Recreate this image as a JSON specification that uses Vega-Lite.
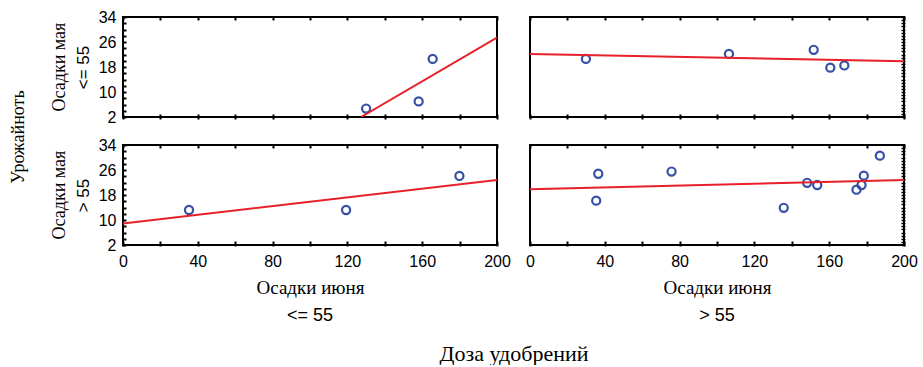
{
  "$schema": "https://vega.github.io/schema/vega-lite/v6.json",
  "padding": {"left": 10, "top": 9, "right": 5, "bottom": 0},
  "title": {"text": "Урожайноть", "orient": "left", "font": "Liberation Serif", "fontSize": 18, "fontWeight": "normal", "color": "#000", "anchor": "middle", "offset": 23, "dx": 50},
  "datasets": {
    "all": [
      {"dose": "<= 55", "may": "<= 55", "kind": "pt", "june": 130.0, "yield": 4.7},
      {"dose": "<= 55", "may": "<= 55", "kind": "pt", "june": 158.1, "yield": 7.0},
      {"dose": "<= 55", "may": "<= 55", "kind": "pt", "june": 165.6, "yield": 20.6},
      {"dose": "<= 55", "may": "<= 55", "kind": "fit", "june": 127.3, "yield": 2.0},
      {"dose": "<= 55", "may": "<= 55", "kind": "fit", "june": 200, "yield": 27.4},
      {"dose": "> 55", "may": "<= 55", "kind": "pt", "june": 29.9, "yield": 20.6},
      {"dose": "> 55", "may": "<= 55", "kind": "pt", "june": 106.4, "yield": 22.2},
      {"dose": "> 55", "may": "<= 55", "kind": "pt", "june": 151.7, "yield": 23.5},
      {"dose": "> 55", "may": "<= 55", "kind": "pt", "june": 160.6, "yield": 17.8},
      {"dose": "> 55", "may": "<= 55", "kind": "pt", "june": 168.1, "yield": 18.5},
      {"dose": "> 55", "may": "<= 55", "kind": "fit", "june": 0, "yield": 22.2},
      {"dose": "> 55", "may": "<= 55", "kind": "fit", "june": 200, "yield": 19.8},
      {"dose": "<= 55", "may": "> 55", "kind": "pt", "june": 35.3, "yield": 13.2},
      {"dose": "<= 55", "may": "> 55", "kind": "pt", "june": 119.3, "yield": 13.2},
      {"dose": "<= 55", "may": "> 55", "kind": "pt", "june": 179.9, "yield": 24.1},
      {"dose": "<= 55", "may": "> 55", "kind": "fit", "june": 0, "yield": 8.9},
      {"dose": "<= 55", "may": "> 55", "kind": "fit", "june": 200, "yield": 22.8},
      {"dose": "> 55", "may": "> 55", "kind": "pt", "june": 36.5, "yield": 24.8},
      {"dose": "> 55", "may": "> 55", "kind": "pt", "june": 35.4, "yield": 16.2},
      {"dose": "> 55", "may": "> 55", "kind": "pt", "june": 75.7, "yield": 25.5},
      {"dose": "> 55", "may": "> 55", "kind": "pt", "june": 135.7, "yield": 13.9},
      {"dose": "> 55", "may": "> 55", "kind": "pt", "june": 148.2, "yield": 21.9},
      {"dose": "> 55", "may": "> 55", "kind": "pt", "june": 153.6, "yield": 21.2},
      {"dose": "> 55", "may": "> 55", "kind": "pt", "june": 174.6, "yield": 19.7},
      {"dose": "> 55", "may": "> 55", "kind": "pt", "june": 177.3, "yield": 21.2},
      {"dose": "> 55", "may": "> 55", "kind": "pt", "june": 178.5, "yield": 24.2},
      {"dose": "> 55", "may": "> 55", "kind": "pt", "june": 187.1, "yield": 30.6},
      {"dose": "> 55", "may": "> 55", "kind": "fit", "june": 0, "yield": 19.8},
      {"dose": "> 55", "may": "> 55", "kind": "fit", "june": 200, "yield": 22.8}
    ]
  },
  "spacing": 12,
  "vconcat": [
    {
      "data": {"name": "all"},
      "transform": [{"filter": "datum.may == '<= 55'"}],
      "facet": {
        "row": {"field": "may", "type": "nominal", "header": {"labelExpr": "'Осадки мая'", "labelFont": "Liberation Serif", "labelFontSize": 18, "labelAngle": -90, "labelOrient": "left", "labelPadding": -4, "title": null}},
        "column": {"field": "dose", "type": "nominal", "sort": ["<= 55", "> 55"], "header": {"labels": false, "title": null}}
      },
      "spacing": {"column": 31},
      "spec": {
        "width": 374, "height": 100,
        "layer": [
          {
            "transform": [{"filter": "datum.kind == 'pt'"}],
            "mark": {"type": "point", "shape": "circle", "filled": false, "stroke": "#3550a5", "strokeWidth": 2.2, "size": 66, "opacity": 1},
            "encoding": {
              "x": {"field": "june", "type": "quantitative", "scale": {"domain": [0, 200], "nice": false},
                    "axis": {"orient": "bottom", "values": [0,20,40,60,80,100,120,140,160,180,200], "labels": false, "title": null, "domain": false, "grid": false, "tickSize": -5, "tickWidth": 2, "tickColor": "#000"}},
              "y": {"field": "yield", "type": "quantitative", "scale": {"domain": [2, 34], "nice": false},
                    "axis": {"orient": "left", "values": [2,4,6,8,10,12,14,16,18,20,22,24,26,28,30,32,34], "labelExpr": "datum.value % 8 == 2 ? datum.label : ''", "title": "<= 55", "titleFont": "Liberation Sans", "titleFontSize": 17, "titleFontWeight": "normal", "titleColor": "#000", "titlePadding": 6, "domain": false, "grid": false, "tickSize": -4, "tickWidth": 2, "tickColor": "#000", "labelFont": "Liberation Sans", "labelFontSize": 16, "labelColor": "#000", "labelPadding": 10, "labelFlush": false}}
            }
          },
          {
            "transform": [{"filter": "datum.kind == 'fit'"}],
            "mark": {"type": "line", "color": "#e8202a", "strokeWidth": 2, "clip": true},
            "encoding": {
              "x": {"field": "june", "type": "quantitative", "axis": {"orient": "top", "values": [0,20,40,60,80,100,120,140,160,180,200], "labels": false, "title": null, "domain": false, "grid": false, "tickSize": -4, "tickWidth": 2, "tickColor": "#000"}},
              "y": {"field": "yield", "type": "quantitative", "axis": {"orient": "right", "values": [2,3,4,5,6,7,8,9,10,11,12,13,14,15,16,17,18,19,20,21,22,23,24,25,26,27,28,29,30,31,32,33,34], "labels": false, "title": null, "domain": false, "grid": false, "tickSize": -4, "tickWidth": 1.5, "tickColor": "#000"}}
            }
          }
        ],
        "resolve": {"axis": {"x": "independent", "y": "independent"}}
      }
    },
    {
      "data": {"name": "all"},
      "transform": [{"filter": "datum.may == '> 55'"}],
      "facet": {
        "row": {"field": "may", "type": "nominal", "header": {"labelExpr": "'Осадки мая'", "labelFont": "Liberation Serif", "labelFontSize": 18, "labelAngle": -90, "labelOrient": "left", "labelPadding": -4, "title": null}},
        "column": {"field": "dose", "type": "nominal", "sort": ["<= 55", "> 55"], "header": {"labelOrient": "bottom", "titleOrient": "bottom", "labelFont": "Liberation Sans", "labelFontSize": 18, "labelColor": "#000", "labelPadding": 10, "title": "Доза удобрений", "titleFont": "Liberation Serif", "titleFontSize": 22, "titleFontWeight": "normal", "titleColor": "#000", "titlePadding": 9}}
      },
      "spacing": {"column": 31},
      "spec": {
        "width": 374, "height": 100,
        "layer": [
          {
            "transform": [{"filter": "datum.kind == 'pt'"}],
            "mark": {"type": "point", "shape": "circle", "filled": false, "stroke": "#3550a5", "strokeWidth": 2.2, "size": 66, "opacity": 1},
            "encoding": {
              "x": {"field": "june", "type": "quantitative", "scale": {"domain": [0, 200], "nice": false},
                    "axis": {"orient": "bottom", "values": [0,20,40,60,80,100,120,140,160,180,200], "labelExpr": "datum.value % 40 == 0 ? datum.label : ''", "title": "Осадки июня", "titleFont": "Liberation Serif", "titleFontSize": 19, "titleFontWeight": "normal", "titleColor": "#000", "titlePadding": 9, "domain": false, "grid": false, "tickSize": -5, "tickWidth": 2, "tickColor": "#000", "labelFont": "Liberation Sans", "labelFontSize": 16, "labelColor": "#000", "labelPadding": 12, "labelFlush": false}},
              "y": {"field": "yield", "type": "quantitative", "scale": {"domain": [2, 34], "nice": false},
                    "axis": {"orient": "left", "values": [2,4,6,8,10,12,14,16,18,20,22,24,26,28,30,32,34], "labelExpr": "datum.value % 8 == 2 ? datum.label : ''", "title": "> 55", "titleFont": "Liberation Sans", "titleFontSize": 17, "titleFontWeight": "normal", "titleColor": "#000", "titlePadding": 6, "domain": false, "grid": false, "tickSize": -4, "tickWidth": 2, "tickColor": "#000", "labelFont": "Liberation Sans", "labelFontSize": 16, "labelColor": "#000", "labelPadding": 10, "labelFlush": false}}
            }
          },
          {
            "transform": [{"filter": "datum.kind == 'fit'"}],
            "mark": {"type": "line", "color": "#e8202a", "strokeWidth": 2, "clip": true},
            "encoding": {
              "x": {"field": "june", "type": "quantitative", "axis": {"orient": "top", "values": [0,20,40,60,80,100,120,140,160,180,200], "labels": false, "title": null, "domain": false, "grid": false, "tickSize": -4, "tickWidth": 2, "tickColor": "#000"}},
              "y": {"field": "yield", "type": "quantitative", "axis": {"orient": "right", "values": [2,3,4,5,6,7,8,9,10,11,12,13,14,15,16,17,18,19,20,21,22,23,24,25,26,27,28,29,30,31,32,33,34], "labels": false, "title": null, "domain": false, "grid": false, "tickSize": -4, "tickWidth": 1.5, "tickColor": "#000"}}
            }
          }
        ],
        "resolve": {"axis": {"x": "independent", "y": "independent"}}
      }
    }
  ],
  "config": {
    "view": {"stroke": "#000", "strokeWidth": 2},
    "background": "#ffffff"
  }
}
